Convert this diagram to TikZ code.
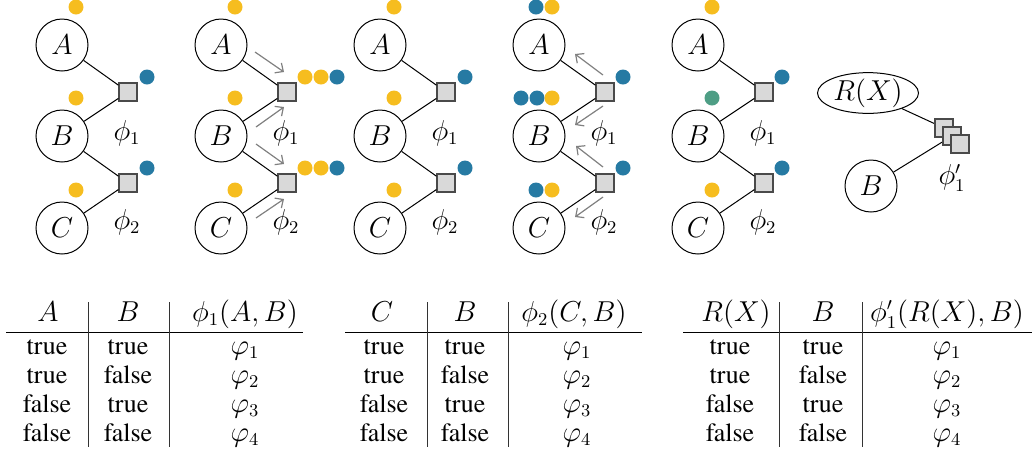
\documentclass[tikz,border=0pt]{standalone}
\usepackage{fontspec}
\newfontfamily\tabfont{TeX Gyre Termes}
\usetikzlibrary{shapes.geometric,calc,arrows.meta}
\definecolor{cyel}{HTML}{F6BD1F}
\definecolor{cblu}{HTML}{267AA3}
\definecolor{cgrn}{HTML}{4E9E85}
\definecolor{facfill}{HTML}{D9D9D9}
\definecolor{facline}{HTML}{4A4A4A}
\definecolor{msgc}{HTML}{808080}
\pgfdeclarelayer{background}
\pgfsetlayers{background,main}
\tikzset{
  var/.style={circle,draw,line width=0.5pt,minimum size=26pt,inner sep=0pt},
  fac/.style={rectangle,draw=facline,fill=facfill,line width=0.6pt,minimum size=9pt,inner sep=0pt},
  ydot/.style={circle,fill=cyel,minimum size=7.5pt,inner sep=0pt},
  bdot/.style={circle,fill=cblu,minimum size=7.5pt,inner sep=0pt},
  gdot/.style={circle,fill=cgrn,minimum size=7.5pt,inner sep=0pt},
  edgeline/.style={draw,line width=0.5pt},
  msg/.style={-{Straight Barb[length=3.2pt,width=6pt]},draw=msgc,line width=0.6pt},
  cell/.style={anchor=base,inner sep=0pt},
  tcell/.style={anchor=base,inner sep=0pt,font=\tabfont\fontsize{13}{15}\selectfont},
  rulel/.style={draw,line width=0.5pt},
  vrule/.style={draw,line width=0.45pt,black!80}
}
\begin{document}
\begin{tikzpicture}[x=0.5pt,y=-0.5pt,font=\fontsize{13.5}{16}\selectfont]
\useasboundingbox (0,0) rectangle (1032,452);

% ---------- five factor graphs ----------
\foreach \i/\c in {1/62,2/221,3/380,4/539,5/698}{
  \node[var] (A\i) at (\c,45) {$A$};
  \node[var] (B\i) at (\c,136) {$B$};
  \node[var] (C\i) at (\c,228) {$C$};
  \node[fac] (fa\i) at ({\c+66},92) {};
  \node[fac] (fb\i) at ({\c+66},183) {};
  \node (pa\i) at ({\c+65},133) {$\phi_1$};
  \node (pb\i) at ({\c+65},222) {$\phi_2$};
  \draw[edgeline] (A\i) -- (fa\i);
  \draw[edgeline] (B\i) -- (fa\i);
  \draw[edgeline] (B\i) -- (fb\i);
  \draw[edgeline] (C\i) -- (fb\i);
}

% column 1
\node[ydot] (d1a) at (76,7) {};
\node[ydot] (d1b) at (76,98) {};
\node[ydot] (d1c) at (76,190) {};
\node[bdot] (d1f) at (147,77) {};
\node[bdot] (d1g) at (147,168) {};

% column 2
\node[ydot] (d2a) at (235,7) {};
\node[ydot] (d2b) at (235,98) {};
\node[ydot] (d2c) at (235,190) {};
\node[ydot] (d2f1) at (305,77) {};
\node[ydot] (d2f2) at (321,77) {};
\node[bdot] (d2f3) at (337,77) {};
\node[ydot] (d2g1) at (305,168) {};
\node[ydot] (d2g2) at (321,168) {};
\node[bdot] (d2g3) at (337,168) {};
\draw[msg] ($(A2)+(34,7)$) -- ($(fa2)+(-3,-20)$);
\draw[msg] ($(B2)+(35,-9)$) -- ($(fa2)+(-3,15)$);
\draw[msg] ($(B2)+(35,8)$) -- ($(fb2)+(-3,-19)$);
\draw[msg] ($(C2)+(35,-10)$) -- ($(fb2)+(-3,16)$);

% column 3
\node[ydot] (d3a) at (394,7) {};
\node[ydot] (d3b) at (394,98) {};
\node[ydot] (d3c) at (394,190) {};
\node[bdot] (d3f) at (465,77) {};
\node[bdot] (d3g) at (465,168) {};

% column 4
\node[bdot] (d4a1) at (536,7) {};
\node[ydot] (d4a2) at (552,7) {};
\node[bdot] (d4b1) at (521,98) {};
\node[bdot] (d4b2) at (537,98) {};
\node[ydot] (d4b3) at (552,98) {};
\node[bdot] (d4c1) at (536,190) {};
\node[ydot] (d4c2) at (552,190) {};
\node[bdot] (d4f) at (623,77) {};
\node[bdot] (d4g) at (623,168) {};
\draw[msg] ($(fa4)+(-2,-17)$) -- ($(A4)+(36,9)$);
\draw[msg] ($(fa4)+(-2,14)$) -- ($(B4)+(36,-11)$);
\draw[msg] ($(fb4)+(-2,-16)$) -- ($(B4)+(37,10)$);
\draw[msg] ($(fb4)+(-2,14)$) -- ($(C4)+(36,-11)$);

% column 5
\node[ydot] (d5a) at (712,7) {};
\node[gdot] (d5b) at (712,98) {};
\node[ydot] (d5c) at (712,190) {};
\node[bdot] (d5f) at (782,77) {};
\node[bdot] (d5g) at (782,168) {};

% ---------- lifted graph ----------
\node[ellipse,draw,line width=0.5pt,minimum width=50.5pt,minimum height=20pt,inner sep=0pt] (R) at (868,93) {$R(X)$};
\node[var] (B6) at (871,186) {$B$};
\node[fac] (s1) at (944,128) {};
\node[fac] (s2) at (952,136) {};
\node[fac] (s3) at (960,144) {};
\node (p6) at (952,178) {$\phi'_1$};
\begin{pgfonlayer}{background}
\draw[edgeline] (R) -- (s1.center);
\draw[edgeline] (B6) -- (s2.center);
\end{pgfonlayer}

% ---------- table 1 ----------
\node[cell] (t1h1) at (48,321) {$A$};
\node[cell] (t1h2) at (128,321) {$B$};
\node[cell] (t1h3) at (245,321) {$\phi_1(A,B)$};
\coordinate (t1l) at (6,332);
\coordinate (t1r) at (303,332);
\draw[rulel] (t1l) -- (t1r);
\coordinate (t1v1t) at (88,302); \coordinate (t1v1b) at (88,447);
\coordinate (t1v2t) at (169,302); \coordinate (t1v2b) at (169,447);
\draw[vrule] (t1v1t) -- (t1v1b);
\draw[vrule] (t1v2t) -- (t1v2b);
\foreach \r/\u/\v in {1/true/true,2/true/false,3/false/true,4/false/false}{
  \node[tcell] (t1a\r) at (47,{325+29*\r}) {\u};
  \node[tcell] (t1b\r) at (128,{325+29*\r}) {\v};
  \node[cell] (t1c\r) at (245,{325+29*\r}) {$\varphi_{\r}$};
}

% ---------- table 2 ----------
\node[cell] (t2h1) at (382,321) {$C$};
\node[cell] (t2h2) at (465,321) {$B$};
\node[cell] (t2h3) at (574,321) {$\phi_2(C,B)$};
\coordinate (t2l) at (345,332);
\coordinate (t2r) at (642,332);
\draw[rulel] (t2l) -- (t2r);
\coordinate (t2v1t) at (427,302); \coordinate (t2v1b) at (427,447);
\coordinate (t2v2t) at (508,302); \coordinate (t2v2b) at (508,447);
\draw[vrule] (t2v1t) -- (t2v1b);
\draw[vrule] (t2v2t) -- (t2v2b);
\foreach \r/\u/\v in {1/true/true,2/true/false,3/false/true,4/false/false}{
  \node[tcell] (t2a\r) at (384,{325+29*\r}) {\u};
  \node[tcell] (t2b\r) at (465,{325+29*\r}) {\v};
  \node[cell] (t2c\r) at (577,{325+29*\r}) {$\varphi_{\r}$};
}

% ---------- table 3 ----------
\node[cell] (t3h1) at (736,321) {$R(X)$};
\node[cell] (t3h2) at (823,321) {$B$};
\node[cell] (t3h3) at (947,321) {$\phi'_1(R(X),B)$};
\coordinate (t3l) at (683,332);
\coordinate (t3r) at (1032,332);
\draw[rulel] (t3l) -- (t3r);
\coordinate (t3v1t) at (779,302); \coordinate (t3v1b) at (779,447);
\coordinate (t3v2t) at (862,302); \coordinate (t3v2b) at (862,447);
\draw[vrule] (t3v1t) -- (t3v1b);
\draw[vrule] (t3v2t) -- (t3v2b);
\foreach \r/\u/\v in {1/true/true,2/true/false,3/false/true,4/false/false}{
  \node[tcell] (t3a\r) at (730,{325+29*\r}) {\u};
  \node[tcell] (t3b\r) at (823,{325+29*\r}) {\v};
  \node[cell] (t3c\r) at (947,{325+29*\r}) {$\varphi_{\r}$};
}
\end{tikzpicture}
\end{document}
